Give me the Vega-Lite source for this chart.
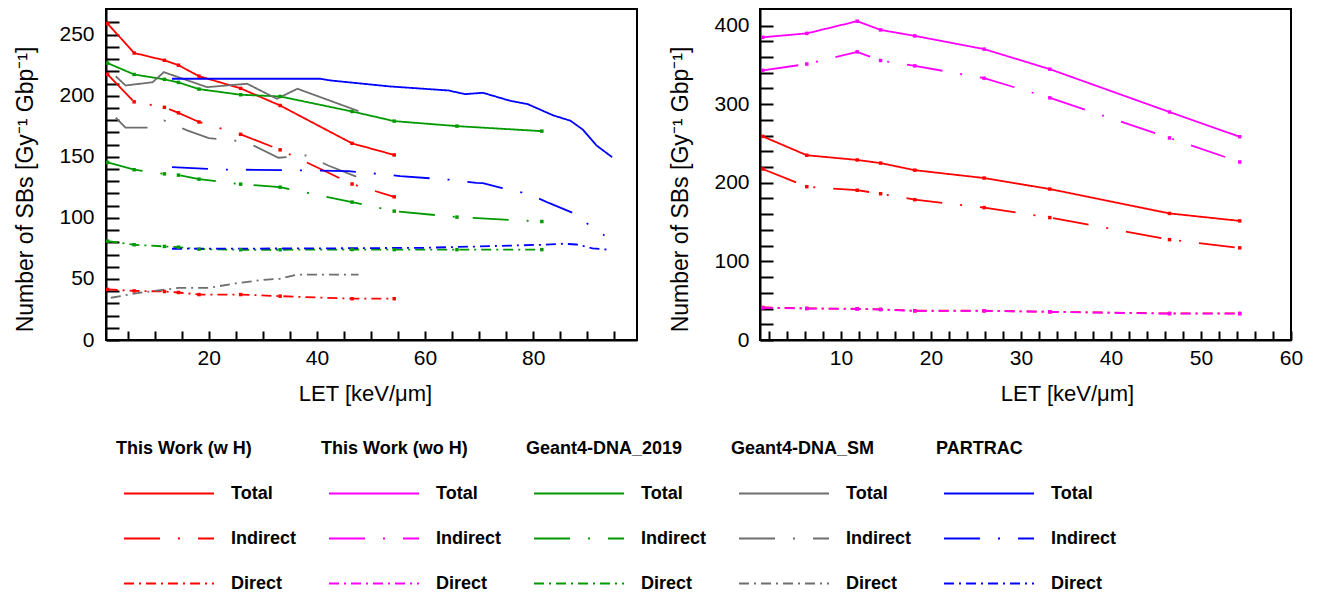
{
  "$schema": "https://vega.github.io/schema/vega-lite/v6.json",
  "padding": {"left": 13, "top": 8, "right": 5, "bottom": 0},
  "background": "white",
  "datasets": {
    "sb": [
      {"series": "This Work (w H)|Total", "let": 1.3, "sb": 259},
      {"series": "This Work (w H)|Total", "let": 6.2, "sb": 235},
      {"series": "This Work (w H)|Total", "let": 11.8, "sb": 229},
      {"series": "This Work (w H)|Total", "let": 14.4, "sb": 225},
      {"series": "This Work (w H)|Total", "let": 18.2, "sb": 216},
      {"series": "This Work (w H)|Total", "let": 25.9, "sb": 206},
      {"series": "This Work (w H)|Total", "let": 33.2, "sb": 192},
      {"series": "This Work (w H)|Total", "let": 46.5, "sb": 161},
      {"series": "This Work (w H)|Total", "let": 54.3, "sb": 151.5},
      {"series": "This Work (w H)|Indirect", "let": 1.3, "sb": 217.5},
      {"series": "This Work (w H)|Indirect", "let": 6.2, "sb": 195},
      {"series": "This Work (w H)|Indirect", "let": 11.8, "sb": 190.5},
      {"series": "This Work (w H)|Indirect", "let": 14.4, "sb": 186},
      {"series": "This Work (w H)|Indirect", "let": 18.2, "sb": 178.5},
      {"series": "This Work (w H)|Indirect", "let": 25.9, "sb": 168.4},
      {"series": "This Work (w H)|Indirect", "let": 33.2, "sb": 155.7},
      {"series": "This Work (w H)|Indirect", "let": 46.5, "sb": 127.7},
      {"series": "This Work (w H)|Indirect", "let": 54.3, "sb": 117.2},
      {"series": "This Work (w H)|Direct", "let": 1.3, "sb": 41.4},
      {"series": "This Work (w H)|Direct", "let": 6.2, "sb": 40.2},
      {"series": "This Work (w H)|Direct", "let": 11.8, "sb": 39.7},
      {"series": "This Work (w H)|Direct", "let": 14.4, "sb": 38.9},
      {"series": "This Work (w H)|Direct", "let": 18.2, "sb": 37.2},
      {"series": "This Work (w H)|Direct", "let": 25.9, "sb": 37.2},
      {"series": "This Work (w H)|Direct", "let": 33.2, "sb": 35.9},
      {"series": "This Work (w H)|Direct", "let": 46.5, "sb": 33.8},
      {"series": "This Work (w H)|Direct", "let": 54.3, "sb": 33.8},
      {"series": "This Work (wo H)|Total", "let": 1.3, "sb": 385},
      {"series": "This Work (wo H)|Total", "let": 6.2, "sb": 390},
      {"series": "This Work (wo H)|Total", "let": 11.8, "sb": 405.5},
      {"series": "This Work (wo H)|Total", "let": 14.4, "sb": 394.4},
      {"series": "This Work (wo H)|Total", "let": 18.2, "sb": 386.8},
      {"series": "This Work (wo H)|Total", "let": 25.9, "sb": 370},
      {"series": "This Work (wo H)|Total", "let": 33.2, "sb": 344.5},
      {"series": "This Work (wo H)|Total", "let": 46.5, "sb": 290},
      {"series": "This Work (wo H)|Total", "let": 54.3, "sb": 258.5},
      {"series": "This Work (wo H)|Indirect", "let": 1.3, "sb": 343},
      {"series": "This Work (wo H)|Indirect", "let": 6.2, "sb": 351},
      {"series": "This Work (wo H)|Indirect", "let": 11.8, "sb": 366.5},
      {"series": "This Work (wo H)|Indirect", "let": 14.4, "sb": 355.5},
      {"series": "This Work (wo H)|Indirect", "let": 18.2, "sb": 348.7},
      {"series": "This Work (wo H)|Indirect", "let": 25.9, "sb": 333},
      {"series": "This Work (wo H)|Indirect", "let": 33.2, "sb": 308},
      {"series": "This Work (wo H)|Indirect", "let": 46.5, "sb": 257},
      {"series": "This Work (wo H)|Indirect", "let": 54.3, "sb": 226.4},
      {"series": "This Work (wo H)|Direct", "let": 1.3, "sb": 41},
      {"series": "This Work (wo H)|Direct", "let": 6.2, "sb": 40},
      {"series": "This Work (wo H)|Direct", "let": 11.8, "sb": 39.5},
      {"series": "This Work (wo H)|Direct", "let": 14.4, "sb": 38.8},
      {"series": "This Work (wo H)|Direct", "let": 18.2, "sb": 37},
      {"series": "This Work (wo H)|Direct", "let": 25.9, "sb": 37},
      {"series": "This Work (wo H)|Direct", "let": 33.2, "sb": 35.8},
      {"series": "This Work (wo H)|Direct", "let": 46.5, "sb": 33.5},
      {"series": "This Work (wo H)|Direct", "let": 54.3, "sb": 33.5},
      {"series": "Geant4-DNA_2019|Total", "let": 1.3, "sb": 226.7},
      {"series": "Geant4-DNA_2019|Total", "let": 6.2, "sb": 217.4},
      {"series": "Geant4-DNA_2019|Total", "let": 11.8, "sb": 213.4},
      {"series": "Geant4-DNA_2019|Total", "let": 14.4, "sb": 210.9},
      {"series": "Geant4-DNA_2019|Total", "let": 18.2, "sb": 205.4},
      {"series": "Geant4-DNA_2019|Total", "let": 25.9, "sb": 200.8},
      {"series": "Geant4-DNA_2019|Total", "let": 33.2, "sb": 199.4},
      {"series": "Geant4-DNA_2019|Total", "let": 46.5, "sb": 187.1},
      {"series": "Geant4-DNA_2019|Total", "let": 54.3, "sb": 179.2},
      {"series": "Geant4-DNA_2019|Total", "let": 65.9, "sb": 175.1},
      {"series": "Geant4-DNA_2019|Total", "let": 81.6, "sb": 171},
      {"series": "Geant4-DNA_2019|Indirect", "let": 1.3, "sb": 145.4},
      {"series": "Geant4-DNA_2019|Indirect", "let": 6.2, "sb": 139.4},
      {"series": "Geant4-DNA_2019|Indirect", "let": 11.8, "sb": 136},
      {"series": "Geant4-DNA_2019|Indirect", "let": 14.4, "sb": 135},
      {"series": "Geant4-DNA_2019|Indirect", "let": 18.2, "sb": 131.7},
      {"series": "Geant4-DNA_2019|Indirect", "let": 25.9, "sb": 127.6},
      {"series": "Geant4-DNA_2019|Indirect", "let": 33.2, "sb": 125.1},
      {"series": "Geant4-DNA_2019|Indirect", "let": 46.5, "sb": 112.9},
      {"series": "Geant4-DNA_2019|Indirect", "let": 54.3, "sb": 105.5},
      {"series": "Geant4-DNA_2019|Indirect", "let": 65.9, "sb": 100.6},
      {"series": "Geant4-DNA_2019|Indirect", "let": 81.6, "sb": 97},
      {"series": "Geant4-DNA_2019|Direct", "let": 1.3, "sb": 80.9},
      {"series": "Geant4-DNA_2019|Direct", "let": 6.2, "sb": 78},
      {"series": "Geant4-DNA_2019|Direct", "let": 11.8, "sb": 76.6},
      {"series": "Geant4-DNA_2019|Direct", "let": 14.4, "sb": 76},
      {"series": "Geant4-DNA_2019|Direct", "let": 18.2, "sb": 74.4},
      {"series": "Geant4-DNA_2019|Direct", "let": 25.9, "sb": 73.9},
      {"series": "Geant4-DNA_2019|Direct", "let": 33.2, "sb": 73.9},
      {"series": "Geant4-DNA_2019|Direct", "let": 46.5, "sb": 74.1},
      {"series": "Geant4-DNA_2019|Direct", "let": 54.3, "sb": 74},
      {"series": "Geant4-DNA_2019|Direct", "let": 65.9, "sb": 74},
      {"series": "Geant4-DNA_2019|Direct", "let": 81.6, "sb": 74},
      {"series": "Geant4-DNA_SM|Total", "let": 2.8, "sb": 216},
      {"series": "Geant4-DNA_SM|Total", "let": 4.6, "sb": 208.4},
      {"series": "Geant4-DNA_SM|Total", "let": 9.6, "sb": 211},
      {"series": "Geant4-DNA_SM|Total", "let": 11.7, "sb": 219.3},
      {"series": "Geant4-DNA_SM|Total", "let": 19.7, "sb": 207},
      {"series": "Geant4-DNA_SM|Total", "let": 27.1, "sb": 209.8},
      {"series": "Geant4-DNA_SM|Total", "let": 32.6, "sb": 197.5},
      {"series": "Geant4-DNA_SM|Total", "let": 36.4, "sb": 205.7},
      {"series": "Geant4-DNA_SM|Total", "let": 47.7, "sb": 187.4},
      {"series": "Geant4-DNA_SM|Indirect", "let": 2.8, "sb": 182},
      {"series": "Geant4-DNA_SM|Indirect", "let": 4.6, "sb": 173.8},
      {"series": "Geant4-DNA_SM|Indirect", "let": 8.9, "sb": 173.8},
      {"series": "Geant4-DNA_SM|Indirect", "let": 11.7, "sb": 179.8},
      {"series": "Geant4-DNA_SM|Indirect", "let": 16, "sb": 171.6},
      {"series": "Geant4-DNA_SM|Indirect", "let": 20, "sb": 165.3},
      {"series": "Geant4-DNA_SM|Indirect", "let": 24.6, "sb": 163.4},
      {"series": "Geant4-DNA_SM|Indirect", "let": 27, "sb": 162},
      {"series": "Geant4-DNA_SM|Indirect", "let": 32.9, "sb": 149.2},
      {"series": "Geant4-DNA_SM|Indirect", "let": 38, "sb": 151.1},
      {"series": "Geant4-DNA_SM|Indirect", "let": 42.1, "sb": 142.9},
      {"series": "Geant4-DNA_SM|Indirect", "let": 47.7, "sb": 133},
      {"series": "Geant4-DNA_SM|Direct", "let": 1.9, "sb": 34.6},
      {"series": "Geant4-DNA_SM|Direct", "let": 6.8, "sb": 38.4},
      {"series": "Geant4-DNA_SM|Direct", "let": 14.5, "sb": 42.7},
      {"series": "Geant4-DNA_SM|Direct", "let": 20, "sb": 42.7},
      {"series": "Geant4-DNA_SM|Direct", "let": 25.2, "sb": 46.5},
      {"series": "Geant4-DNA_SM|Direct", "let": 30.2, "sb": 49.3},
      {"series": "Geant4-DNA_SM|Direct", "let": 33.2, "sb": 50.1},
      {"series": "Geant4-DNA_SM|Direct", "let": 36.3, "sb": 53.6},
      {"series": "Geant4-DNA_SM|Direct", "let": 47.7, "sb": 53.6},
      {"series": "PARTRAC|Total", "let": 13.2, "sb": 213.9},
      {"series": "PARTRAC|Total", "let": 40.6, "sb": 213.9},
      {"series": "PARTRAC|Total", "let": 42.5, "sb": 212.5},
      {"series": "PARTRAC|Total", "let": 53.5, "sb": 207.6},
      {"series": "PARTRAC|Total", "let": 64.3, "sb": 204.3},
      {"series": "PARTRAC|Total", "let": 67.4, "sb": 201.3},
      {"series": "PARTRAC|Total", "let": 70.7, "sb": 202.4},
      {"series": "PARTRAC|Total", "let": 75.7, "sb": 195.9},
      {"series": "PARTRAC|Total", "let": 79, "sb": 193.1},
      {"series": "PARTRAC|Total", "let": 83.7, "sb": 183.9},
      {"series": "PARTRAC|Total", "let": 86.9, "sb": 179.5},
      {"series": "PARTRAC|Total", "let": 89.2, "sb": 172.2},
      {"series": "PARTRAC|Total", "let": 91.7, "sb": 159.3},
      {"series": "PARTRAC|Total", "let": 94.6, "sb": 149.7},
      {"series": "PARTRAC|Indirect", "let": 13.2, "sb": 141.5},
      {"series": "PARTRAC|Indirect", "let": 22.5, "sb": 139.6},
      {"series": "PARTRAC|Indirect", "let": 38.8, "sb": 138.8},
      {"series": "PARTRAC|Indirect", "let": 45.8, "sb": 138.3},
      {"series": "PARTRAC|Indirect", "let": 51, "sb": 136.1},
      {"series": "PARTRAC|Indirect", "let": 55.4, "sb": 134.2},
      {"series": "PARTRAC|Indirect", "let": 64.6, "sb": 131.2},
      {"series": "PARTRAC|Indirect", "let": 69.5, "sb": 128.7},
      {"series": "PARTRAC|Indirect", "let": 70.7, "sb": 128.4},
      {"series": "PARTRAC|Indirect", "let": 74.1, "sb": 124.6},
      {"series": "PARTRAC|Indirect", "let": 79.4, "sb": 119.2},
      {"series": "PARTRAC|Indirect", "let": 83, "sb": 112},
      {"series": "PARTRAC|Indirect", "let": 88, "sb": 102.8},
      {"series": "PARTRAC|Indirect", "let": 91, "sb": 91.6},
      {"series": "PARTRAC|Indirect", "let": 93.2, "sb": 85.6},
      {"series": "PARTRAC|Direct", "let": 13.2, "sb": 74.7},
      {"series": "PARTRAC|Direct", "let": 40, "sb": 75},
      {"series": "PARTRAC|Direct", "let": 60, "sb": 75.5},
      {"series": "PARTRAC|Direct", "let": 70, "sb": 76.6},
      {"series": "PARTRAC|Direct", "let": 81.8, "sb": 78},
      {"series": "PARTRAC|Direct", "let": 85.5, "sb": 78.8},
      {"series": "PARTRAC|Direct", "let": 88, "sb": 78.2},
      {"series": "PARTRAC|Direct", "let": 91, "sb": 75},
      {"series": "PARTRAC|Direct", "let": 94.1, "sb": 73.9}
    ]
  },
  "spacing": 30,
  "resolve": {"scale": {"color": "shared", "strokeDash": "shared"}},
  "hconcat": [
    {
      "width": 531,
      "height": 331,
      "data": {"name": "sb"},
      "transform": [{"filter": "indexof(datum.series, 'This Work (wo H)') < 0"}],
      "layer": [
        {
          "mark": {"type": "line", "strokeWidth": 1.8, "clip": true},
          "encoding": {
            "x": {
              "field": "let", "type": "quantitative",
              "scale": {"domain": [1, 99.2], "nice": false, "zero": false},
              "axis": {
                "title": "LET [keV/μm]", "titleX": 259, "tickCount": 200, "format": "d",
                "values": [5,10,15,20,25,30,35,40,45,50,55,60,65,70,75,80,85,90,95],
                "labelExpr": "datum.value % 20 === 0 ? datum.label : ''",
                "labelOverlap": false, "labelFlush": false,
                "tickSize": -9, "labelPadding": 16, "titlePadding": 15,
                "encode": {"ticks": {"update": {"y2": {"signal": "datum.value % 20 === 0 ? -9 : -4.5"}}}}
              }
            },
            "y": {
              "field": "sb", "type": "quantitative",
              "scale": {"domain": [0, 271], "nice": false},
              "axis": {
                "title": "Number of SBs [Gy⁻¹ Gbp⁻¹]", "titleY": 180, "tickCount": 200, "format": "d",
                "values": [0,10,20,30,40,50,60,70,80,90,100,110,120,130,140,150,160,170,180,190,200,210,220,230,240,250,260],
                "labelExpr": "datum.value % 50 === 0 ? datum.label : ''",
                "labelOverlap": false, "labelFlush": false,
                "tickSize": -13, "labelPadding": 25, "titlePadding": 21,
                "encode": {"ticks": {"update": {"x2": {"signal": "datum.value % 50 === 0 ? 13 : 7"}}}}
              }
            },
            "color": {
              "field": "series", "type": "nominal",
              "scale": {
                "domain": ["This Work (w H)", "This Work (wo H)", "Geant4-DNA_2019", "Geant4-DNA_SM", "PARTRAC",
                  "This Work (w H)|Total", "This Work (wo H)|Total", "Geant4-DNA_2019|Total", "Geant4-DNA_SM|Total", "PARTRAC|Total",
                  "This Work (w H)|Indirect", "This Work (wo H)|Indirect", "Geant4-DNA_2019|Indirect", "Geant4-DNA_SM|Indirect", "PARTRAC|Indirect",
                  "This Work (w H)|Direct", "This Work (wo H)|Direct", "Geant4-DNA_2019|Direct", "Geant4-DNA_SM|Direct", "PARTRAC|Direct"],
                "range": ["transparent", "transparent", "transparent", "transparent", "transparent",
                  "#ff0000", "#ff00ff", "#009a00", "#6e6e6e", "#0000ff",
                  "#ff0000", "#ff00ff", "#009a00", "#6e6e6e", "#0000ff",
                  "#ff0000", "#ff00ff", "#009a00", "#6e6e6e", "#0000ff"]
              },
              "legend": {
                "orient": "none", "legendX": 17, "legendY": 417, "title": null, "columns": 5, "direction": "horizontal",
                "symbolType": "stroke", "symbolSize": 8100, "symbolStrokeWidth": 2, "clipHeight": 45,
                "labelFont": "Liberation Sans", "labelFontSize": 18, "labelFontWeight": "bold", "labelColor": "black",
                "labelOffset": 16, "columnPadding": 24, "rowPadding": 0, "labelLimit": 300,
                "labelExpr": "indexof(datum.label, '|') >= 0 ? split(datum.label, '|')[1] : datum.label",
                "encode": {"labels": {"update": {"dx": {"signal": "indexof(datum.value, '|') >= 0 ? 0 : -115"}}}}
              }
            },
            "strokeDash": {
              "field": "series", "type": "nominal",
              "scale": {
                "domain": ["This Work (w H)", "This Work (wo H)", "Geant4-DNA_2019", "Geant4-DNA_SM", "PARTRAC",
                  "This Work (w H)|Total", "This Work (wo H)|Total", "Geant4-DNA_2019|Total", "Geant4-DNA_SM|Total", "PARTRAC|Total",
                  "This Work (w H)|Indirect", "This Work (wo H)|Indirect", "Geant4-DNA_2019|Indirect", "Geant4-DNA_SM|Indirect", "PARTRAC|Indirect",
                  "This Work (w H)|Direct", "This Work (wo H)|Direct", "Geant4-DNA_2019|Direct", "Geant4-DNA_SM|Direct", "PARTRAC|Direct"],
                "range": [[1,0],[1,0],[1,0],[1,0],[1,0],
                  [1,0],[1,0],[1,0],[1,0],[1,0],
                  [36,18,2,18],[36,18,2,18],[36,18,2,18],[36,18,2,18],[36,18,2,18],
                  [10,5,2,5],[10,5,2,5],[10,5,2,5],[10,5,2,5],[10,5,2,5]]
              },
              "legend": {
                "orient": "none", "legendX": 17, "legendY": 417, "title": null, "columns": 5, "direction": "horizontal",
                "symbolType": "stroke", "symbolSize": 8100, "symbolStrokeWidth": 2, "clipHeight": 45,
                "labelFont": "Liberation Sans", "labelFontSize": 18, "labelFontWeight": "bold", "labelColor": "black",
                "labelOffset": 16, "columnPadding": 24, "rowPadding": 0, "labelLimit": 300,
                "labelExpr": "indexof(datum.label, '|') >= 0 ? split(datum.label, '|')[1] : datum.label",
                "encode": {"labels": {"update": {"dx": {"signal": "indexof(datum.value, '|') >= 0 ? 0 : -115"}}}}
              }
            }
          }
        },
        {
          "transform": [{"filter": "indexof(datum.series, 'This Work') === 0 || indexof(datum.series, 'Geant4-DNA_2019') === 0"}],
          "mark": {"type": "point", "shape": "square", "filled": true, "size": 12, "opacity": 1, "clip": true},
          "encoding": {
            "x": {"field": "let", "type": "quantitative"},
            "y": {"field": "sb", "type": "quantitative"},
            "color": {"field": "series", "type": "nominal", "legend": null}
          }
        }
      ]
    },
    {
      "width": 531,
      "height": 331,
      "data": {"name": "sb"},
      "transform": [{"filter": "indexof(datum.series, 'This Work') === 0"}],
      "layer": [
        {
          "mark": {"type": "line", "strokeWidth": 1.8, "clip": true},
          "encoding": {
            "x": {
              "field": "let", "type": "quantitative",
              "scale": {"domain": [1, 60], "nice": false, "zero": false},
              "axis": {
                "title": "LET [keV/μm]", "titleX": 307, "tickCount": 200, "format": "d",
                "values": [2,4,6,8,10,12,14,16,18,20,22,24,26,28,30,32,34,36,38,40,42,44,46,48,50,52,54,56,58,60],
                "labelExpr": "datum.value % 10 === 0 ? datum.label : ''",
                "labelOverlap": false, "labelFlush": false,
                "tickSize": -9, "labelPadding": 16, "titlePadding": 15,
                "encode": {"ticks": {"update": {"y2": {"signal": "datum.value % 10 === 0 ? -9 : -4.5"}}}}
              }
            },
            "y": {
              "field": "sb", "type": "quantitative",
              "scale": {"domain": [0, 421], "nice": false},
              "axis": {
                "title": "Number of SBs [Gy⁻¹ Gbp⁻¹]", "titleY": 180, "tickCount": 200, "format": "d",
                "values": [0,20,40,60,80,100,120,140,160,180,200,220,240,260,280,300,320,340,360,380,400],
                "labelExpr": "datum.value % 100 === 0 ? datum.label : ''",
                "labelOverlap": false, "labelFlush": false,
                "tickSize": -13, "labelPadding": 24, "titlePadding": 21,
                "encode": {"ticks": {"update": {"x2": {"signal": "datum.value % 100 === 0 ? 13 : 7"}}}}
              }
            },
            "color": {
              "field": "series", "type": "nominal",
              "legend": {
                "orient": "none", "legendX": 17, "legendY": 417, "title": null, "columns": 5, "direction": "horizontal",
                "symbolType": "stroke", "symbolSize": 8100, "symbolStrokeWidth": 2, "clipHeight": 45,
                "labelFont": "Liberation Sans", "labelFontSize": 18, "labelFontWeight": "bold", "labelColor": "black",
                "labelOffset": 16, "columnPadding": 24, "rowPadding": 0, "labelLimit": 300,
                "labelExpr": "indexof(datum.label, '|') >= 0 ? split(datum.label, '|')[1] : datum.label",
                "encode": {"labels": {"update": {"dx": {"signal": "indexof(datum.value, '|') >= 0 ? 0 : -115"}}}}
              }
            },
            "strokeDash": {
              "field": "series", "type": "nominal",
              "legend": {
                "orient": "none", "legendX": 17, "legendY": 417, "title": null, "columns": 5, "direction": "horizontal",
                "symbolType": "stroke", "symbolSize": 8100, "symbolStrokeWidth": 2, "clipHeight": 45,
                "labelFont": "Liberation Sans", "labelFontSize": 18, "labelFontWeight": "bold", "labelColor": "black",
                "labelOffset": 16, "columnPadding": 24, "rowPadding": 0, "labelLimit": 300,
                "labelExpr": "indexof(datum.label, '|') >= 0 ? split(datum.label, '|')[1] : datum.label",
                "encode": {"labels": {"update": {"dx": {"signal": "indexof(datum.value, '|') >= 0 ? 0 : -115"}}}}
              }
            }
          }
        },
        {
          "mark": {"type": "point", "shape": "square", "filled": true, "size": 12, "opacity": 1, "clip": true},
          "encoding": {
            "x": {"field": "let", "type": "quantitative"},
            "y": {"field": "sb", "type": "quantitative"},
            "color": {"field": "series", "type": "nominal", "legend": null}
          }
        }
      ]
    }
  ],
  "config": {
    "view": {"stroke": "black", "strokeWidth": 2},
    "font": "Liberation Sans",
    "axis": {
      "grid": false,
      "domainColor": "black", "domainWidth": 2,
      "tickColor": "black", "tickWidth": 2,
      "labelFont": "Liberation Sans", "labelFontSize": 21, "labelColor": "black",
      "labelFlush": false, "labelOverlap": false,
      "titleFont": "Liberation Sans", "titleFontSize": 22, "titleFontWeight": "normal", "titleColor": "black"
    },
    "axisY": {"titleFontSize": 23}
  }
}
